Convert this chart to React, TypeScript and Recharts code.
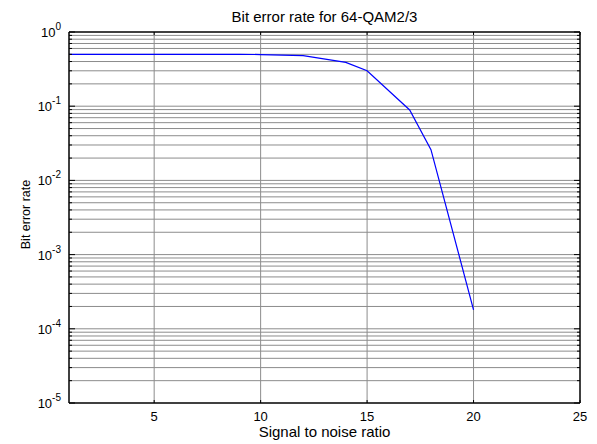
import React from 'react';
import { LineChart, Line, XAxis, YAxis, ReferenceLine, Label } from 'recharts';

const snr = [1, 2, 3, 4, 5, 6, 7, 8, 9, 10, 12, 14, 15, 17, 18, 20];
const ber = [0.5, 0.5, 0.5, 0.5, 0.5, 0.5, 0.5, 0.5, 0.5, 0.497, 0.48, 0.39, 0.3, 0.089, 0.026, 0.00018];
const xTicks = [5, 10, 15, 20, 25];
const xGrid = [5, 10, 15, 20];
const yExponents = [-5, -4, -3, -2, -1, 0];
const yMinorMultipliers = [2, 3, 4, 5, 6, 7, 8, 9];

const data = snr.map((s, i) => ({ snr: s, ber: ber[i] }));
const yMajor = yExponents.map((e) => Math.pow(10, e));
const yMinor: number[] = [];
yExponents.slice(0, -1).forEach((e) => {
  yMinorMultipliers.forEach((m) => yMinor.push(m * Math.pow(10, e)));
});
const yAll = [...yMajor, ...yMinor].sort((a, b) => a - b);
const yGrid = yAll.filter((v) => v > 1e-5 && v < 1);

const FONT = "'Liberation Sans', Arial, sans-serif";
const GRID = '#8c8c8c';

const isMajor = (v: number) => yMajor.some((m) => Math.abs(m - v) / m < 1e-6);

const LeftTick = (props: any) => {
  const { x, y, payload } = props;
  const v = payload.value;
  const major = isMajor(v);
  const exp = Math.round(Math.log10(v));
  return (
    <g>
      <line x1={x} y1={y} x2={x + (major ? 6 : 3)} y2={y} stroke="#000" strokeWidth={1} />
      {major && (
        <text x={x - 8} y={y + 5} textAnchor="end" fontFamily={FONT} fontSize={13} fill="#000">
          <tspan>10</tspan>
          <tspan dy={-7} fontSize={10}>{String(exp)}</tspan>
        </text>
      )}
    </g>
  );
};

const RightTick = (props: any) => {
  const { x, y, payload } = props;
  const major = isMajor(payload.value);
  return <line x1={x} y1={y} x2={x - (major ? 6 : 3)} y2={y} stroke="#000" strokeWidth={1} />;
};

const BottomTick = (props: any) => {
  const { x, y, payload } = props;
  return (
    <g>
      <line x1={x} y1={y} x2={x} y2={y - 3} stroke="#000" strokeWidth={1} />
      <text x={x} y={y + 18} textAnchor="middle" fontFamily={FONT} fontSize={13} fill="#000">
        {String(payload.value)}
      </text>
    </g>
  );
};

const TopTick = (props: any) => {
  const { x, y } = props;
  return <line x1={x} y1={y} x2={x} y2={y + 3} stroke="#000" strokeWidth={1} />;
};

export default function App() {
  return (
    <div style={{ position: 'absolute', left: 0, top: 0, background: '#fff' }}>
      <LineChart width={597} height={444} data={data} margin={{ top: 31, right: 16, bottom: 0, left: 0 }}>
        <XAxis
          dataKey="snr"
          type="number"
          domain={[1, 25]}
          allowDataOverflow
          ticks={xTicks}
          height={41}
          tickSize={0}
          tickMargin={0}
          tick={<BottomTick />}
          axisLine={{ stroke: '#000', strokeWidth: 1.5 }}
          tickLine={false}
        >
          <Label
            content={(p: any) => (
              <text
                x={p.viewBox.x + p.viewBox.width / 2}
                y={p.viewBox.y + 34}
                textAnchor="middle"
                fontFamily={FONT}
                fontSize={15}
                fill="#000"
              >
                Signal to noise ratio
              </text>
            )}
          />
        </XAxis>
        <XAxis
          xAxisId="top"
          orientation="top"
          dataKey="snr"
          type="number"
          domain={[1, 25]}
          allowDataOverflow
          ticks={xTicks}
          height={1}
          tickSize={0}
          tickMargin={0}
          tick={<TopTick />}
          axisLine={{ stroke: '#000', strokeWidth: 1.5 }}
          tickLine={false}
        >
          <Label
            content={(p: any) => (
              <text
                x={p.viewBox.x + p.viewBox.width / 2}
                y={22}
                textAnchor="middle"
                fontFamily={FONT}
                fontSize={15}
                fill="#000"
              >
                Bit error rate for 64-QAM2/3
              </text>
            )}
          />
        </XAxis>
        <YAxis
          type="number"
          scale="log"
          domain={[1e-5, 1]}
          allowDataOverflow
          ticks={yAll}
          width={69}
          tickSize={0}
          tickMargin={0}
          tick={<LeftTick />}
          interval={0}
          axisLine={{ stroke: '#000', strokeWidth: 1.5 }}
          tickLine={false}
        >
          <Label
            content={(p: any) => {
              const cy = p.viewBox.y + p.viewBox.height / 2 - 3;
              return (
                <text
                  x={30}
                  y={cy}
                  transform={`rotate(-90, 30, ${cy})`}
                  textAnchor="middle"
                  fontFamily={FONT}
                  fontSize={12.5}
                  fill="#000"
                >
                  Bit error rate
                </text>
              );
            }}
          />
        </YAxis>
        <YAxis
          yAxisId="r"
          orientation="right"
          type="number"
          scale="log"
          domain={[1e-5, 1]}
          allowDataOverflow
          ticks={yAll}
          width={1}
          tickSize={0}
          tickMargin={0}
          tick={<RightTick />}
          interval={0}
          axisLine={{ stroke: '#000', strokeWidth: 1.5 }}
          tickLine={false}
        />
        {yGrid.map((v) => (
          <ReferenceLine key={'y' + v} y={v} stroke={GRID} strokeWidth={1} ifOverflow="hidden" />
        ))}
        {xGrid.map((v) => (
          <ReferenceLine key={'x' + v} x={v} stroke={GRID} strokeWidth={1} />
        ))}
        <Line
          type="linear"
          dataKey="ber"
          stroke="#0000ff"
          strokeWidth={1.2}
          dot={false}
          isAnimationActive={false}
        />
      </LineChart>
    </div>
  );
}
